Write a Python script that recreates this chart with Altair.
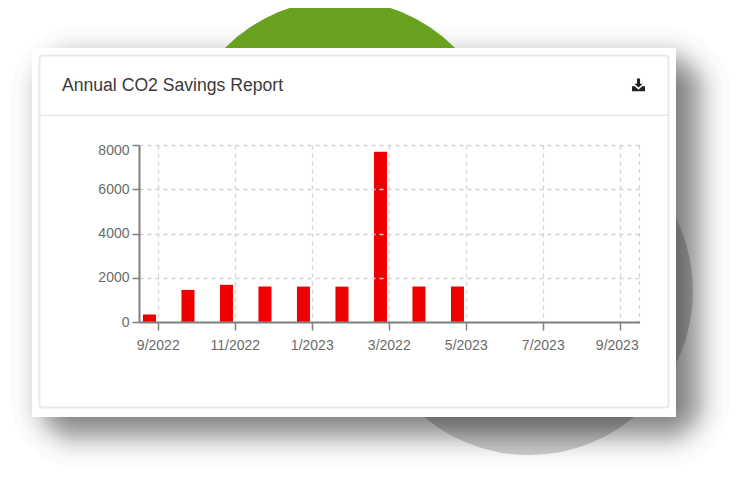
import altair as alt
import pandas as pd

months = ["9/2022", "10/2022", "11/2022", "12/2022", "1/2023", "2/2023", "3/2022",
          "4/2023", "5/2023", "6/2023", "7/2023", "8/2023", "9/2023"]
savings = [340, 1450, 1680, 1600, 1600, 1600, 7700, 1600, 1600, None, None, None, None]
x_labels = ["9/2022", "11/2022", "1/2023", "3/2022", "5/2023", "7/2023", "9/2023"]
y_ticks = [0, 2000, 4000, 6000, 8000]
title_text = "Annual CO2 Savings Report"
shadow_outer = [35, 27.6, 24, 21.2, 18.8, 17, 15.2, 13.9, 12.5, 11,
                10, 8.8, 7.7, 6.6, 5.5, 4.6, 3.5, 2.5, 1.4, 0.5]
shadow_spread = shadow_outer + [-v for v in reversed(shadow_outer)]

FONT = "Liberation Sans"
OX, OY = 139, 145   # plot origin in page pixels
PW, PH = 500.5, 177


def px(v):
    return v - OX


def py(v):
    return v - OY


one = alt.Data(values=[{"k": 1}])


def box(x0, y0, x1, y1, **kw):
    return alt.Chart(one).mark_rect(**kw).encode(
        x=alt.value(px(x0)), x2=alt.value(px(x1)),
        y=alt.value(py(y0)), y2=alt.value(py(y1)))


def disc(cx, cy, r, color):
    return alt.Chart(one).mark_circle(color=color, opacity=1).encode(
        x=alt.value(px(cx)), y=alt.value(py(cy)),
        size=alt.value(4 * r * r))


layers = [disc(529, 291, 164, "#d2d2d2")]

# soft card shadow
for s in shadow_spread:
    layers.append(box(46 - s, 62 - s, 695 + s, 432 + s, color="black", opacity=0.014,
                      cornerRadius=max(s + 32, 2)))

layers.append(disc(340, 162, 162, "#68a21e"))

# card
layers.append(box(32, 48, 676, 417, color="white"))
layers.append(box(39.5, 55.5, 668.5, 407.5, fill="white", stroke="#e9e9e9", strokeWidth=2, cornerRadius=3))
layers.append(box(40, 114.5, 668, 116, color="#e8e8e8"))

layers.append(alt.Chart(one).mark_text(font=FONT, fontSize=17.6, align="left", baseline="middle", color="#3a3a3a").encode(
    x=alt.value(px(62)), y=alt.value(py(85.5)), text=alt.value(title_text)))

# download icon
layers.append(alt.Chart(one).mark_point(
    shape="M-0.12 -0.5 L0.12 -0.5 L0.12 -0.1 L0.32 -0.1 L0 0.2 L-0.32 -0.1 L-0.12 -0.1 Z "
          "M-0.5 0.1 L-0.28 0.1 L0 0.36 L0.28 0.1 L0.5 0.1 L0.5 0.48 L-0.5 0.48 Z",
    filled=True, fill="#222222", stroke=None, opacity=1).encode(
    x=alt.value(px(638.5)), y=alt.value(py(85)), size=alt.value(680)))

df = pd.DataFrame({"month": months, "series": "CO2", "value": savings}).dropna()

x_enc = alt.X("month:N", sort=months,
              scale=alt.Scale(domain=months, paddingInner=0.205, paddingOuter=0.1025),
              axis=alt.Axis(values=x_labels, title=None, labelAngle=0, zindex=1, grid=True,
                            gridColor="#d2d2d2", gridDash=[4, 4], gridWidth=1.3,
                            domainColor="#808080", domainWidth=2, tickColor="#808080", tickWidth=1.5, tickSize=8,
                            labelColor="#6b6b6b", labelFont=FONT, labelFontSize=14, labelPadding=8,
                            labelOffset={"condition": {"test": "datum.value == '9/2023'", "value": -3}, "value": 0}))
y_enc = alt.Y("value:Q", scale=alt.Scale(domain=[0, 8000], nice=False),
              axis=alt.Axis(values=y_ticks, title=None, zindex=1, grid=True, format="d",
                            gridColor="#d2d2d2", gridDash=[4, 4], gridWidth=1.3,
                            domainColor="#808080", domainWidth=2, tickColor="#808080", tickWidth=1.5, tickSize=7,
                            labelColor="#6b6b6b", labelFont=FONT, labelFontSize=14, labelPadding=3,
                            labelOffset={"condition": {"test": "datum.value == 8000", "value": 5}, "value": 0}))

layers.append(alt.Chart(df).mark_bar(color="#ee0000", opacity=1).encode(
    x=x_enc, y=y_enc,
    xOffset=alt.XOffset("series:N", scale=alt.Scale(domain=["CO2", "other"], paddingInner=0.26, paddingOuter=0))))

# dashed right edge of the grid
layers.append(alt.Chart(one).mark_rule(color="#d2d2d2", strokeDash=[4, 4], strokeWidth=1.3).encode(
    x=alt.value(PW), y=alt.value(0), y2=alt.value(PH)))

chart = alt.layer(*layers).properties(
    width=PW, height=PH, background="white",
    padding={"left": 131, "top": 137, "right": 725 - 131 - PW, "bottom": 467 - 137 - PH},
    autosize=alt.AutoSizeParams(type="none"),
).configure_view(stroke=None)

chart.save("out.html", embed_options={"renderer": "svg", "actions": False})
